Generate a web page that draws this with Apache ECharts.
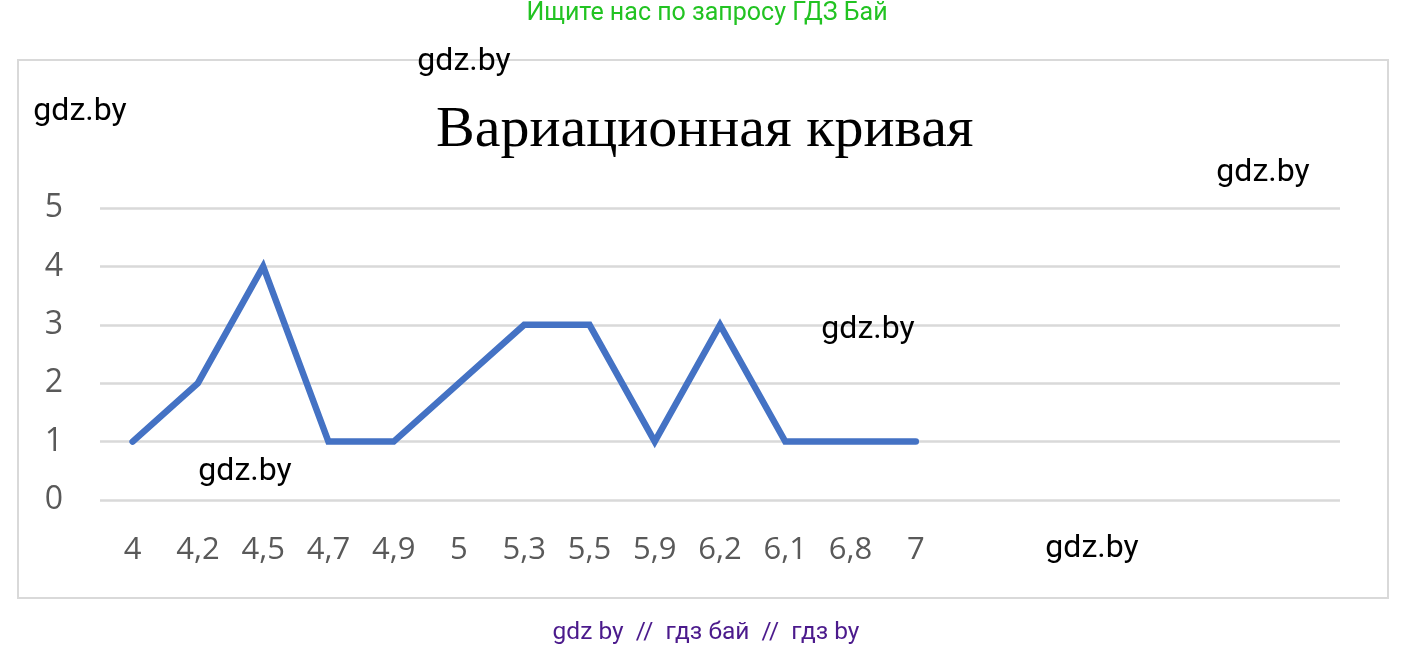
<!DOCTYPE html>
<html>
<head>
<meta charset="utf-8">
<title>Вариационная кривая</title>
<script src="https://cdn.jsdelivr.net/npm/echarts@6/dist/echarts.min.js"></script>
<style>
  html, body { margin: 0; padding: 0; background: #fff; }
  #chart { width: 1415px; height: 650px; }
</style>
</head>
<body>
<div id="chart"></div>
<script>
// варианты (ось X) и частоты; пустые слоты справа — как в исходной диаграмме
const categories = ['4', '4,2', '4,5', '4,7', '4,9', '5', '5,3', '5,5', '5,9', '6,2', '6,1', '6,8', '7',
	'', '', '', '', '', ''];
const frequencies = [1, 2, 4, 1, 1, 2, 3, 3, 1, 3, 1, 1, 1];
const yTicks = [0, 5, 1]; // min, max, interval

const watermarks = [[80, 112], [464, 62], [1263, 173], [868, 330], [245, 472], [1092, 549]];

const chart = echarts.init(document.getElementById('chart'));

const wmText = watermarks.map(([x, y]) => ({
	type: 'text',
	x: x,
	y: y,
	z: 10,
	style: {
		text: 'gdz.by',
		fill: '#000',
		font: '32px Roboto',
		align: 'center',
		verticalAlign: 'middle'
	}
}));

const option = {
	backgroundColor: '#fff',
	animation: false,
	title: {
		text: 'Вариационная кривая',
		left: 431,
		top: 97,
		textStyle: {
			fontFamily: '"Liberation Serif", "Times New Roman", serif',
			fontWeight: 'normal',
			fontSize: 58,
			color: '#000'
		}
	},
	grid: {
		left: 100,
		right: 75,
		top: 208,
		bottom: 150,
		containLabel: false
	},
	xAxis: {
		type: 'category',
		data: categories,
		boundaryGap: true,
		axisLine: { show: false },
		axisTick: { show: false },
		axisLabel: {
			interval: 0,
			margin: 35,
			color: '#595959',
			fontFamily: '"Open Sans", sans-serif',
			fontSize: 31
		}
	},
	yAxis: {
		type: 'value',
		min: yTicks[0],
		max: yTicks[1],
		interval: yTicks[2],
		axisLine: { show: false },
		axisTick: { show: false },
		axisLabel: {
			margin: 37,
			color: '#595959',
			fontFamily: '"Open Sans", sans-serif',
			fontSize: 32
		},
		splitLine: {
			lineStyle: { color: '#d9d9d9', width: 2.5 }
		}
	},
	series: [{
		type: 'line',
		data: frequencies,
		showSymbol: false,
		symbol: 'none',
		lineStyle: {
			color: '#4472c4',
			width: 6.5,
			cap: 'round',
			join: 'miter'
		}
	}],
	graphic: [
		{
			type: 'rect',
			shape: { x: 18, y: 60, width: 1370, height: 538 },
			z: 0,
			style: { fill: 'none', stroke: '#d9d9d9', lineWidth: 2 }
		},
		{
			type: 'text',
			x: 707,
			y: 14,
			style: {
				text: 'Ищите нас по запросу ГДЗ Бай',
				fill: '#22c322',
				font: '25px Roboto',
				align: 'center',
				verticalAlign: 'middle'
			}
		},
		{
			type: 'text',
			x: 706,
			y: 633,
			style: {
				text: 'gdz by  //  гдз бай  //  гдз by',
				fill: '#4b1a8c',
				font: '24.5px Roboto',
				align: 'center',
				verticalAlign: 'middle'
			}
		}
	].concat(wmText)
};

chart.setOption(option);
</script>
</body>
</html>
